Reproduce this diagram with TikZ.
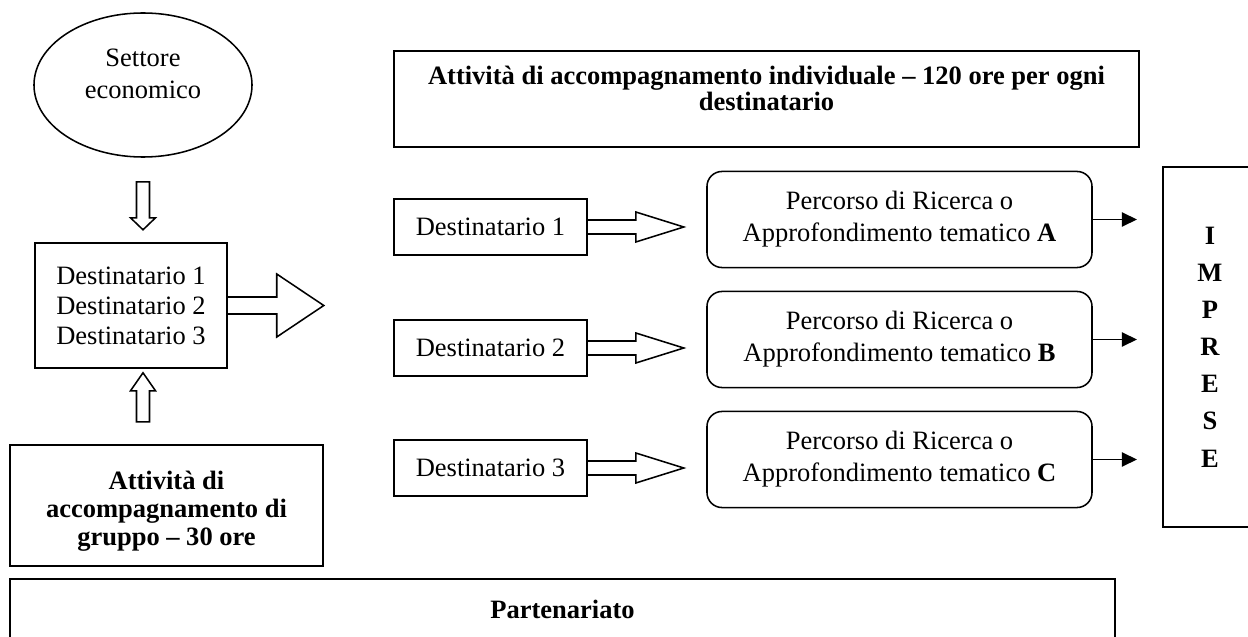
\documentclass[tikz,border=0pt]{standalone}
\usepackage{fontspec}
\setmainfont{Liberation Serif}
\usetikzlibrary{shapes.geometric,arrows.meta,calc}
\begin{document}
\begin{tikzpicture}[x=0.4527pt,y=-0.4527pt,
  box/.style={draw,line width=0.7pt,inner sep=0pt,align=center,font=\fontsize{12}{13.6}\selectfont},
  bbox/.style={box,line width=1pt},
  rbox/.style={box,rounded corners=6.8pt,minimum width=174.3pt,minimum height=43.5pt,font=\fontsize{12}{14.5}\selectfont},
  dbox/.style={box,minimum width=87.4pt,minimum height=25.4pt},
  harrow/.style={draw,line width=0.7pt,line join=miter},
  tarrow/.style={draw,line width=0.7pt,-{Triangle[length=6.8pt,width=6.5pt]},shorten >=11.3pt}]
\clip (0,0) rectangle (1248,637);

% left column
\node[box,ellipse,minimum width=98.7pt,minimum height=65.2pt,
  label={[align=center,font=\fontsize{12}{14.5}\selectfont,yshift=5pt]center:Settore\\economico}] (el) at (143,85) {};
\node[box,minimum width=86.9pt,minimum height=56.6pt] (ld) at (131,305.5) {Destinatario 1\\Destinatario 2\\Destinatario 3};
\node[bbox,minimum width=141.7pt,minimum height=54.8pt,
  label={[align=center,font=\bfseries\fontsize{12}{12.8}\selectfont,yshift=-2.5pt]center:Attività di\\accompagnamento di\\gruppo – 30 ore}] (grp) at (166.5,505.5) {};

% hollow vertical arrows
\draw[harrow] (el.south) ++(-6.5,24) -- ++(0,36) -- ++(-6,0) -- ++(12.5,12) -- ++(12.5,-12) -- ++(-6,0) -- ++(0,-36) -- cycle;
\draw[harrow] (el.south |- ld.south) ++(0,4) -- ++(12.5,18) -- ++(-6,0) -- ++(0,31) -- ++(-13,0) -- ++(0,-31) -- ++(-6,0) -- cycle;
% big hollow arrow
\draw[harrow] (ld.east) ++(0,-8.5) -- ++(49,0) -- ++(0,-23) -- ++(47,31.5) -- ++(-47,31.5) -- ++(0,-23) -- ++(-49,0);

% top box
\node[bbox,minimum width=337.3pt,minimum height=43.5pt,
  label={[align=center,font=\bfseries\fontsize{12}{11.8}\selectfont,yshift=5pt]center:Attività di accompagnamento individuale – 120 ore per ogni\\destinatario}] (top) at (766.5,99) {};

% destinatari
\node[dbox] (d1) at (490.5,227) {Destinatario 1};
\node[dbox] (d2) at (490.5,348) {Destinatario 2};
\node[dbox] (d3) at (490.5,468) {Destinatario 3};

% percorsi
\node[rbox] (ra) at (899.5,219.5) {Percorso di Ricerca o\\Approfondimento tematico \textbf{A}};
\node[rbox] (rb) at (899.5,339.5) {Percorso di Ricerca o\\Approfondimento tematico \textbf{B}};
\node[rbox] (rc) at (899.5,459.5) {Percorso di Ricerca o\\Approfondimento tematico \textbf{C}};

\foreach \d in {d1,d2,d3}{
  \draw[harrow] (\d.east) ++(0,-7) -- ++(48,0) -- ++(0,-8) -- ++(48,15) -- ++(-48,15) -- ++(0,-8) -- ++(-48,0);
}

% imprese
\node[bbox,font=\bfseries\fontsize{12}{16.8}\selectfont,minimum width=42.6pt,minimum height=163pt] (imp) at (1210,347) {I\\M\\P\\R\\E\\S\\E};

\foreach \r in {ra,rb,rc}{
  \draw[tarrow] (\r.east) -- (\r.east -| imp.west);
}

% partenariato
\node[bbox,font=\bfseries\fontsize{12}{13.6}\selectfont,minimum width=500.2pt,minimum height=27.2pt] (part) at (562.5,609) {Partenariato};
\end{tikzpicture}
\end{document}
